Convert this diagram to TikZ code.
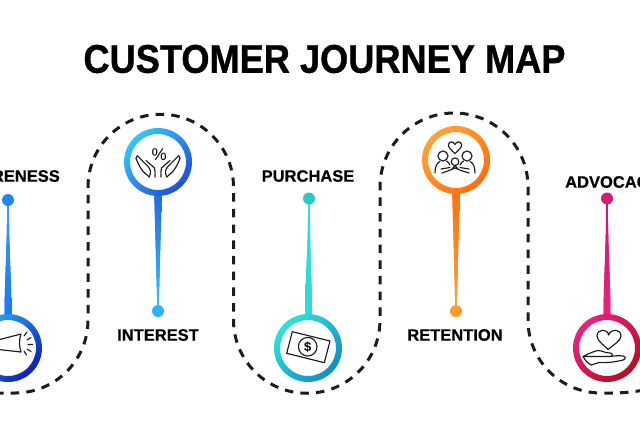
\documentclass[tikz,border=0pt]{standalone}
\usepackage{fontspec}
\setmainfont{Liberation Sans}
\newfontfamily\headfont[UprightFont=* Bold,FakeBold=0.6]{Liberation Sans}
\newfontfamily\titlefont[UprightFont=* Bold,FakeBold=1]{Liberation Sans}
\definecolor{awlight}{HTML}{2BA6F2}
\definecolor{awdark}{HTML}{0F1FB5}
\definecolor{inlight}{HTML}{35C6F6}
\definecolor{indark}{HTML}{1F4FD8}
\definecolor{pulight}{HTML}{2FE2D8}
\definecolor{pudark}{HTML}{118DC8}
\definecolor{relight}{HTML}{FFA532}
\definecolor{redark}{HTML}{FF6E0E}
\definecolor{adlight}{HTML}{EC2082}
\definecolor{addark}{HTML}{B51020}
\definecolor{iconink}{HTML}{1C1C1C}
\begin{document}
\begin{tikzpicture}[x=1pt,y=-1pt,line join=round,
	ringshade/.style 2 args={even odd rule,left color=#1,right color=#2,shading angle=45},
	stemshade/.style 2 args={preaction={fill=#1!50!#2},top color=#1,bottom color=#2},
	icon/.style={draw=iconink,line width=1.15pt,line cap=round},
	trail/.style={draw=iconink,line width=3pt,dash pattern=on 8.5pt off 7.2pt},
	steplabel/.style={font=\fontsize{16.5}{18}\selectfont\headfont,text=black,inner sep=0pt}]
	\useasboundingbox (0,0) rectangle (640,424);
	\coordinate (Aw) at (8,348);
	\coordinate (In) at (158,162);
	\coordinate (Pu) at (308,348);
	\coordinate (Re) at (456,160);
	\coordinate (Ad) at (607,348);
	\node[font=\fontsize{40}{44}\selectfont\titlefont,inner sep=0pt,xscale=.905,transform shape] (title) at (324.5,59) {CUSTOMER JOURNEY MAP};
	\node[steplabel,anchor=east] (awareness) at (60,176) {AWARENESS};
	\node[steplabel] (interest) at (158,335) {INTEREST};
	\node[steplabel] (purchase) at (308,176) {PURCHASE};
	\node[steplabel] (retention) at (455,335) {RETENTION};
	\node[steplabel,anchor=west] (advocacy) at (565,182) {ADVOCACY};
	% dashed way
	\draw[trail] (-5,393)--(15,393) arc[start angle=90,end angle=0,radius=73]
		--(88,187) arc[start angle=180,end angle=360,radius=72.75]
		--(233.5,320) arc[start angle=180,end angle=0,radius=73.25]
		--(380,187) arc[start angle=180,end angle=360,radius=74]
		--(528,320) arc[start angle=180,end angle=90,radius=73]
		--(612,393) .. controls (622,393) and (632,392) .. (645,390);
	% stems
	\shade[stemshade={awlight}{awlight!70!blue}] (7.2,200) .. controls (7.2,250) and (4.5,280) .. (4.5,318) -- (11.5,318) .. controls (11.5,280) and (8.8,250) .. (8.8,200) -- cycle;
	\shade[stemshade={indark!80!inlight}{inlight}] (154.2,192) -- (157.4,311) -- (158.6,311) -- (161.8,192) -- cycle;
	\shade[stemshade={pulight}{pulight!90!pudark}] (308.2,198) .. controls (308.2,250) and (305,280) .. (305,318) -- (312,318) .. controls (312,280) and (309.8,250) .. (309.8,198) -- cycle;
	\shade[stemshade={redark}{relight}] (452.2,190) -- (455.4,311) -- (456.6,311) -- (459.8,190) -- cycle;
	\shade[stemshade={adlight!85!black}{adlight}] (606.2,198) .. controls (606.2,250) and (603.5,280) .. (603.5,318) -- (610.5,318) .. controls (610.5,280) and (607.8,250) .. (607.8,198) -- cycle;
	% dots
	\fill[awlight!80!blue] (8,200) circle[radius=6];
	\fill[inlight!90!blue] (158,311) circle[radius=6];
	\fill[pulight!90!black] (309,198.5) circle[radius=6];
	\fill[relight!80!redark] (456,311) circle[radius=6];
	\fill[adlight!90!black] (607,198.5) circle[radius=6];
	% rings
	\fill[white] (Aw) circle[radius=29] (In) circle[radius=29] (Pu) circle[radius=29] (Re) circle[radius=29] (Ad) circle[radius=29];
	\shade[ringshade={awlight}{awdark}] (Aw) circle[radius=34] (Aw) circle[radius=28];
	\shade[ringshade={inlight}{indark}] (In) circle[radius=34] (In) circle[radius=28];
	\shade[ringshade={pulight}{pudark}] (Pu) circle[radius=34] (Pu) circle[radius=28];
	\shade[ringshade={relight}{redark}] (Re) circle[radius=34] (Re) circle[radius=28];
	\shade[ringshade={adlight}{addark}] (Ad) circle[radius=34] (Ad) circle[radius=28];
	% megaphone
	\begin{scope}[shift={(Aw)}]
		\draw[icon] (-14,-7)--(13,-14) .. controls (11,-8) and (11,-2) .. (13,4)--(-14,1);
		\draw[icon] (16,-12)--(19,-16) (19,-8)--(23,-10.5) (20,-3.5)--(24.5,-3.5) (19,1)--(23,3.5) (16,3)--(18.5,7);
	\end{scope}
	% hands
	\begin{scope}[shift={(In)}]
		\node[font=\fontsize{17}{18}\selectfont,inner sep=0pt] (percent) at (1.3,-7) {\%};
		\foreach \s in {1,-1}{
			\draw[icon,xscale=\s] (-20.7,-6.3) -- (-9.7,4.7) (-22,-3.7) .. controls (-20,2) and (-17,7) .. (-14.7,9.7) -- (-8.7,15);
			\draw[icon,xscale=\s] (-20.7,-6.3) -- (-22,-3.7) (-12,-1.5) -- (-3.5,6) .. controls (-2.5,9) and (-3,12) .. (-3,15) (-8.7,15) .. controls (-7,11) and (-7,8) .. (-9.7,4.7);
		}
	\end{scope}
	% banknote
	\begin{scope}[shift={(Pu)}]
		\draw[icon] (-15.7,-16.3)--(22,-7)--(16.3,14.7)--(-21.3,5.3)--cycle;
		\draw[icon] (-0.3,-1.3) circle[radius=9.3];
		\node[font=\fontsize{13}{14}\selectfont\bfseries,inner sep=0pt] (dollar) at (-0.3,-1.3) {\$};
	\end{scope}
	% family
	\begin{scope}[shift={(Re)}]
		\draw[icon] (-1,-6.5) .. controls (-5,-10) and (-8,-13) .. (-7.5,-15.5) .. controls (-7,-19) and (-2.5,-19) .. (-1,-15.5) .. controls (0.5,-19) and (5,-19) .. (5.5,-15.5) .. controls (6,-13) and (3,-10) .. cycle;
		\draw[icon] (-13,-4) circle[radius=5] (11,-4) circle[radius=5] (-1,1.7) circle[radius=3.8];
		\draw[icon] (-21,13) .. controls (-21,6) and (-19,3) .. (-16,1.5) (-9.5,1) .. controls (-8,2) and (-7,3) .. (-6,5);
		\draw[icon] (19,13) .. controls (19,6) and (17,3) .. (14,1.5) (7.5,1) .. controls (6,2) and (5,3) .. (4,5);
		\draw[icon] (-14,13) -- (-7,10.5) -- (-1,8) -- (5,10.5) -- (13,13) (-15,9) -- (-6,7.5) (-1,5.5) -- (-4,9) (-1,5.5) -- (2,9) (4,7.5) -- (13,9);
	\end{scope}
	% heart on hand
	\begin{scope}[shift={(Ad)}]
		\draw[icon] (1,1.5) .. controls (-3,-3) and (-10,-7) .. (-10,-12) .. controls (-10,-19) and (0,-20) .. (1.7,-13) .. controls (4,-20) and (14,-19) .. (14,-12) .. controls (14,-7) and (6,-3) .. cycle;
		\draw[icon] (-24,8.5) .. controls (-19,6) and (-13,3) .. (-9,2.5) .. controls (-5,2.5) and (-2,5) .. (3,5) .. controls (6,5) and (6,8) .. (3,8.5) -- (-6,8.5) (0,8.5) .. controls (6,8.5) and (11,7) .. (16,8) .. controls (19,8.5) and (19,11) .. (16,12) .. controls (8,14) and (0,15) .. (-8,14.5) .. controls (-11,14.5) and (-13,17) .. (-15.5,17) .. controls (-19,16) and (-22,12) .. (-24,8.5) -- cycle;
	\end{scope}
\end{tikzpicture}
\end{document}
